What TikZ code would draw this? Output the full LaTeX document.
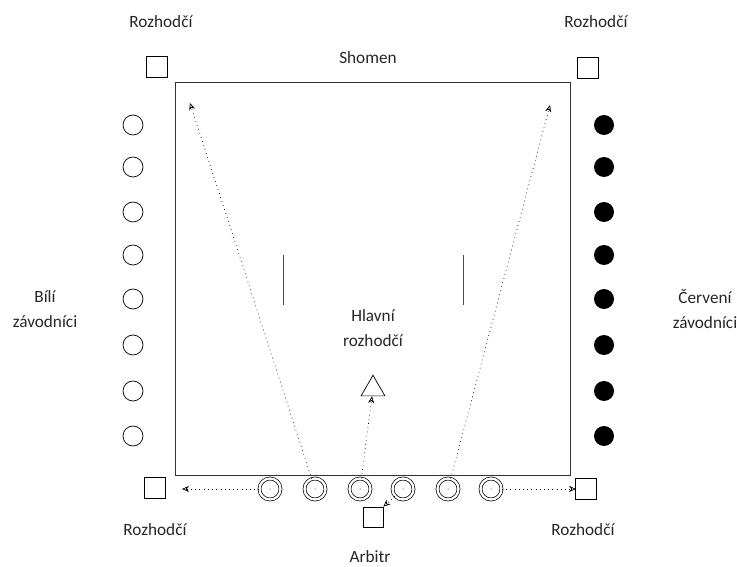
\documentclass[tikz,border=0pt]{standalone}
\usepackage{fontspec}
\setmainfont{Carlito}
\usetikzlibrary{arrows.meta,shapes.geometric}

\tikzset{
  judge/.style={draw, thin, minimum size=0.42cm, inner sep=0pt},
  whiteplayer/.style={draw, thin, circle, minimum size=0.4cm, inner sep=0pt},
  redplayer/.style={fill=black, circle, minimum size=0.4cm, inner sep=0pt},
  ringplayer/.style={draw, thin, circle, double, double distance=1.3pt, minimum size=0.42cm, inner sep=0pt},
  label/.style={font=\fontsize{9.8}{14}\selectfont, align=center, text=black!85, inner sep=1pt},
  move/.style={dotted, thin, -{Stealth[open, length=4pt, width=3.5pt]}}
}

\begin{document}
\begin{tikzpicture}[x=0.02cm, y=-0.02cm]
                \useasboundingbox (0,0) rectangle (737,567);

                % hriste
                \draw[thin, black!80] (175,82) rectangle (570,475);
                \draw[black!70] (283,255) -- (283,305);
                \draw[black!70] (463,255) -- (463,305);

                % rozhodci v rozich
                \node[judge] (tl) at (157,67) {};
                \node[judge] (tr) at (588,68) {};
                \node[judge] (bl) at (155,488) {};
                \node[judge] (br) at (586,489) {};
                \node[judge, minimum size=0.4cm] (arb) at (373,517) {};
                \node[draw, thin, regular polygon, regular polygon sides=3, minimum size=0.55cm, inner sep=0pt] (main) at (373,389) {};

                % zavodnici
                \foreach \y [count=\i] in {125,167,212,255,299,345,391,436} {
                    \node[whiteplayer] (w\i) at (133,\y) {};
                    \node[redplayer] (r\i) at (604,\y) {};
                }
                \foreach \x [count=\i] in {270,315,360,403,448,491} {
                    \node[ringplayer] (p\i) at (\x,489) {};
                    \fill (p\i) circle [radius=0.5];
                }

                % cile pohybu
                \coordinate (tlgoal) at (190,103);
                \coordinate (trgoal) at (550,105);
                \coordinate (blgoal) at (182,489);
                \coordinate (brgoal) at (576,489);
                \draw[move] (p2) -- (tlgoal);
                \draw[move] (p5) -- (trgoal);
                \draw[move] (p3) -- (main);
                \draw[move] (p1) -- (blgoal);
                \draw[move] (p6) -- (brgoal);
                \draw[move] (p4) -- (arb.north east);

                % popisky
                \node[label] (tltext) at (161,22) {Rozhodčí};
                \node[label] (trtext) at (596,22) {Rozhodčí};
                \node[label] (shomen) at (368,58) {Shomen};
                \node[label] (bltext) at (155,530) {Rozhodčí};
                \node[label] (brtext) at (583,530) {Rozhodčí};
                \node[label] (arbtext) at (370,557) {Arbitr};
                \node[label] (white) at (45,309) {Bílí\\závodníci};
                \node[label] (red) at (705,309) {Červení\\závodníci};
                \node[label] (maintext) at (373,328) {Hlavní\\rozhodčí};
            \end{tikzpicture}
\end{document}
